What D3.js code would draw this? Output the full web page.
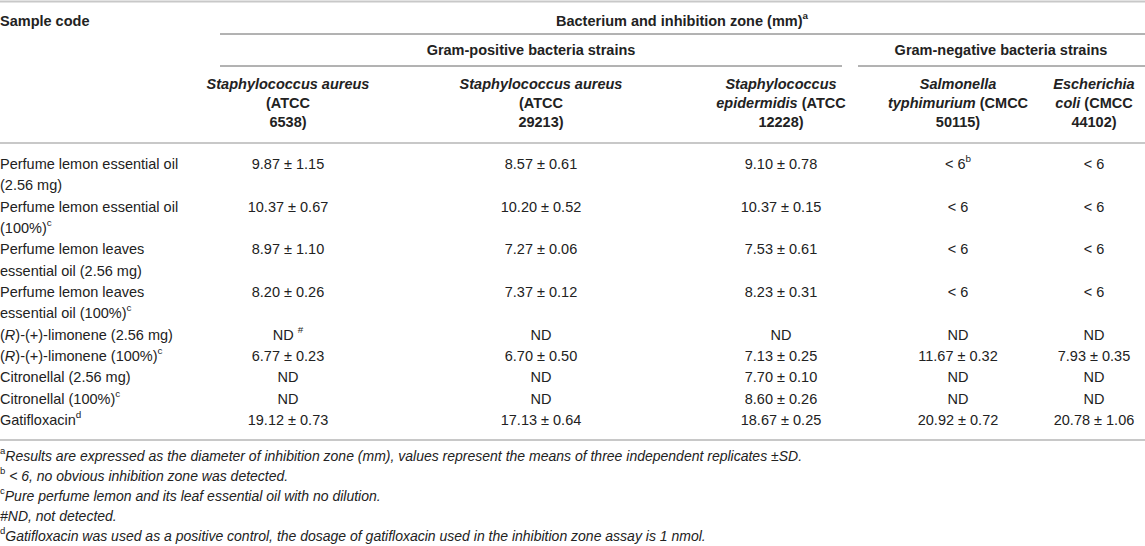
<!DOCTYPE html>
<html>
<head>
<meta charset="utf-8">
<script src="https://cdn.jsdelivr.net/npm/d3@7"></script>
<style>
  body { margin: 0; background: #fff; }
  text { font-family: "Liberation Sans", Arial, sans-serif; fill: #222; }
</style>
</head>
<body>
<div id="table"></div>
<script>
/* Table data. *x* = italic, ^x^ = superscript. */
const samples = [
  ["Perfume lemon essential oil", "(2.56 mg)"],
  ["Perfume lemon essential oil", "(100%)^c^"],
  ["Perfume lemon leaves", "essential oil (2.56 mg)"],
  ["Perfume lemon leaves", "essential oil (100%)^c^"],
  ["(*R*)-(+)-limonene (2.56 mg)"],
  ["(*R*)-(+)-limonene (100%)^c^"],
  ["Citronellal (2.56 mg)"],
  ["Citronellal (100%)^c^"],
  ["Gatifloxacin^d^"]
]
const strains = [
  ["*Staphylococcus aureus*", "(ATCC", "6538)"],
  ["*Staphylococcus aureus*", "(ATCC", "29213)"],
  ["*Staphylococcus*", "*epidermidis* (ATCC", "12228)"],
  ["*Salmonella*", "*typhimurium* (CMCC", "50115)"],
  ["*Escherichia*", "*coli* (CMCC", "44102)"]
]
const saAureus6538 = ["9.87 ± 1.15", "10.37 ± 0.67", "8.97 ± 1.10", "8.20 ± 0.26", "ND ^#^", "6.77 ± 0.23", "ND", "ND", "19.12 ± 0.73"]
const saAureus29213 = ["8.57 ± 0.61", "10.20 ± 0.52", "7.27 ± 0.06", "7.37 ± 0.12", "ND", "6.70 ± 0.50", "ND", "ND", "17.13 ± 0.64"]
const sEpidermidis = ["9.10 ± 0.78", "10.37 ± 0.15", "7.53 ± 0.61", "8.23 ± 0.31", "ND", "7.13 ± 0.25", "7.70 ± 0.10", "8.60 ± 0.26", "18.67 ± 0.25"]
const sTyphimurium = ["< 6^b^", "< 6", "< 6", "< 6", "ND", "11.67 ± 0.32", "ND", "ND", "20.92 ± 0.72"]
const eColi = ["< 6", "< 6", "< 6", "< 6", "ND", "7.93 ± 0.35", "ND", "ND", "20.78 ± 1.06"]
const seriesValues = [saAureus6538, saAureus29213, sEpidermidis, sTyphimurium, eColi]
const footnotes = [
  "^a^*Results are expressed as the diameter of inhibition zone (mm), values represent the means of three independent replicates ±SD.*",
  "^b^ *< 6, no obvious inhibition zone was detected.*",
  "^c^*Pure perfume lemon and its leaf essential oil with no dilution.*",
  "*#ND, not detected.*",
  "^d^*Gatifloxacin was used as a positive control, the dosage of gatifloxacin used in the inhibition zone assay is 1 nmol.*"
]

/* Size and layout. */
const width = 1145
const height = 546
const colCenters = [288, 541, 781, 958, 1094]

const svg = d3.select("#table").append("svg")
  .attr("width", width)
  .attr("height", height)

/* Write rich text (italic + superscript) into a text element. */
function rich(sel, str) {
  str.split(/(\*[^*]+\*|\^[^^]+\^)/).filter(s => s.length).forEach(part => {
    const t = sel.append("tspan")
    if (part[0] === "*") {
      t.attr("font-style", "italic")
      rich(t, part.slice(1, -1))
      return
    }
    if (part[0] === "^") {
      t.attr("baseline-shift", "super").attr("font-size", "0.68em").text(part.slice(1, -1))
      return
    }
    t.text(part)
  })
}

function addText(x, y, str, opts = {}) {
  const t = svg.append("text")
    .attr("x", x).attr("y", y)
    .attr("dominant-baseline", "middle")
    .attr("text-anchor", opts.anchor || "start")
    .attr("font-size", opts.size || 14.5)
    .attr("font-weight", opts.bold ? "bold" : "normal")
  rich(t, str)
  return t
}

function hline(x1, x2, y, color, w) {
  svg.append("line")
    .attr("x1", x1).attr("x2", x2).attr("y1", y).attr("y2", y)
    .attr("stroke", color).attr("stroke-width", w)
}

/* Rules. */
hline(0, width, 1.5, "#c8c8c8", 2)
hline(220, width, 34, "#666", 1)
hline(220, 842, 66, "#666", 1)
hline(858, width, 66, "#666", 1)
hline(0, width, 143, "#c8c8c8", 2)
hline(0, width, 440, "#c8c8c8", 2)

/* Header. */
addText(0, 22, "Sample code", { bold: true })
addText(682, 22, "Bacterium and inhibition zone (mm)^a^", { bold: true, anchor: "middle" })
addText(531, 51, "Gram-positive bacteria strains", { bold: true, anchor: "middle" })
addText(1001, 51, "Gram-negative bacteria strains", { bold: true, anchor: "middle" })

const headerY = d3.scaleLinear().domain([0, 1]).range([85, 104])
strains.forEach((lines, c) => {
  lines.forEach((l, k) => addText(colCenters[c], headerY(k), l, { bold: true, anchor: "middle" }))
})

/* Body rows: line index -> y. */
const lineY = d3.scaleLinear().domain([0, 12]).range([165, 421])
let lineIdx = 0
samples.forEach((lines, r) => {
  lines.forEach((l, k) => addText(0, lineY(lineIdx + k), l))
  seriesValues.forEach((vals, c) => addText(colCenters[c], lineY(lineIdx), vals[r], { anchor: "middle" }))
  lineIdx += lines.length
})

/* Footnotes. */
const noteY = d3.scaleLinear().domain([0, 4]).range([457, 537])
footnotes.forEach((f, i) => addText(0, noteY(i), f, { size: 14 }))
</script>
</body>
</html>
